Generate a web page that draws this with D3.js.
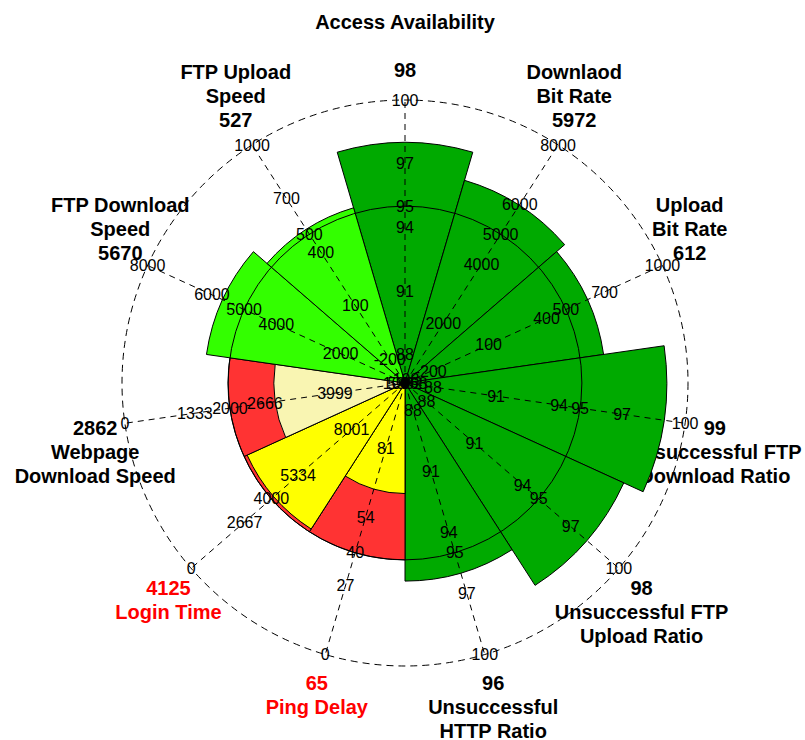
<!DOCTYPE html>
<html>
<head>
<meta charset="utf-8">
<script src="https://cdn.jsdelivr.net/npm/d3@7"></script>
<style>
  body { margin: 0; background: #fff; }
  text { font-family: "Liberation Sans", Arial, sans-serif; }
</style>
</head>
<body>
<div id="chart"></div>
<script>
// data
const categories = ["Access Availability", "Downlaod Bit Rate", "Upload Bit Rate",
  "Unsuccessful FTP Download Ratio", "Unsuccessful FTP Upload Ratio", "Unsuccessful HTTP Ratio",
  "Ping Delay", "Login Time", "Webpage Download Speed", "FTP Download Speed", "FTP Upload Speed"];
const nameLines = [["Access Availability", ""], ["Downlaod", "Bit Rate"], ["Upload", "Bit Rate"],
  ["Unsuccessful FTP", "Download Ratio"], ["Unsuccessful FTP", "Upload Ratio"], ["Unsuccessful", "HTTP Ratio"],
  ["Ping Delay"], ["Login Time"], ["Webpage", "Download Speed"], ["FTP Download", "Speed"], ["FTP Upload", "Speed"]];
const values = [98, 5972, 612, 99, 98, 96, 65, 4125, 2862, 5670, 527];
const thresholds = [95, 5000, 500, 95, 95, 95, 40, 4000, 2000, 5000, 500];
// value at the outer dashed ring and value at the centre, per axis
const axisOuter = [100, 8000, 1000, 100, 100, 100, 0, 0, 0, 8000, 1000];
const axisInner = [86.667, 0, -333.33, 86.667, 86.667, 86.667, 106.67, 10667, 5333.3, 0, -333.33];
const tickLabels = [
  [88, 91, 94, 97, 100],
  [0, 2000, 4000, 6000, 8000],
  [-200, 100, 400, 700, 1000],
  [88, 91, 94, 97, 100],
  [88, 91, 94, 97, 100],
  [88, 91, 94, 97, 100],
  [0, 27, 54, 81, 108],
  [0, 2667, 5334, 8001, 10668],
  [0, 1333, 2666, 3999, 5332],
  [0, 2000, 4000, 6000, 8000],
  [-200, 100, 400, 700, 1000]
];
const status = ["good", "good", "good", "good", "good", "good", "bad", "bad", "warn", "fair", "fair"];

const fills = { good: "#00aa00", fair: "#33ff00", bad: "#ffff00", warn: "#f9f5b2" };
const width = 805, height = 740;
const cx = 405, cy = 383, R = 283, labelR = 313;
const n = categories.length;
const step = 2 * Math.PI / n;

const svg = d3.select("#chart").append("svg")
  .attr("width", width)
  .attr("height", height);

const g = svg.append("g").attr("transform", "translate(" + cx + "," + cy + ")");

const scales = categories.map((c, i) =>
  d3.scaleLinear().domain([axisInner[i], axisOuter[i]]).range([0, R]));

function pt(r, a) {
  return [r * Math.sin(a), -r * Math.cos(a)];
}

const arc = d3.arc().innerRadius(0);

// category labels (drawn first, sectors go over them)
categories.forEach((c, i) => {
  const a = i * step;
  const [x, y] = pt(labelR, a);
  const upper = Math.cos(a) > 0.01;
  const lines = upper ? nameLines[i].concat([String(values[i])]) : [String(values[i])].concat(nameLines[i]);
  const lh = 24;
  const y0 = upper ? y - (lines.length - 1) * lh : y;
  const t = g.append("text")
    .attr("text-anchor", "middle")
    .attr("font-size", "20px")
    .attr("font-weight", "bold")
    .attr("fill", status[i] === "bad" ? "#ff0000" : "#000");
  lines.forEach((l, k) => {
    t.append("tspan").attr("x", x).attr("y", y0 + k * lh).attr("dy", "0.35em").text(l);
  });
});

// sectors
categories.forEach((c, i) => {
  const a = i * step;
  const s = scales[i];
  const ang = { startAngle: a - step / 2, endAngle: a + step / 2 };
  if (status[i] === "bad" || status[i] === "warn") {
    g.append("path")
      .attr("d", arc(Object.assign({ outerRadius: s(thresholds[i]) }, ang)))
      .attr("fill", "#ff3333")
      .attr("stroke", "#000")
      .attr("stroke-width", 1);
  }
  g.append("path")
    .attr("d", arc(Object.assign({ outerRadius: s(values[i]) }, ang)))
    .attr("fill", fills[status[i]])
    .attr("stroke", "#000")
    .attr("stroke-width", 1);
});

// threshold ring
g.append("circle")
  .attr("r", scales[0](thresholds[0]))
  .attr("fill", "none")
  .attr("stroke", "#000")
  .attr("stroke-width", 1);

// dashed axes and outer ring
categories.forEach((c, i) => {
  const [x, y] = pt(R, i * step);
  g.append("line")
    .attr("x1", 0).attr("y1", 0).attr("x2", x).attr("y2", y)
    .attr("stroke", "#000")
    .attr("stroke-width", 1)
    .attr("stroke-dasharray", "6,5");
});
g.append("circle")
  .attr("r", R)
  .attr("fill", "none")
  .attr("stroke", "#000")
  .attr("stroke-width", 1)
  .attr("stroke-dasharray", "7,5");

// tick labels along each axis, plus the threshold value
categories.forEach((c, i) => {
  const a = i * step;
  const s = scales[i];
  tickLabels[i].concat([thresholds[i]]).forEach(v => {
    const [x, y] = pt(s(v), a);
    g.append("text")
      .attr("x", x).attr("y", y)
      .attr("dy", "0.35em")
      .attr("text-anchor", "middle")
      .attr("font-size", "16px")
      .attr("fill", "#000")
      .text(v);
  });
});

g.append("circle").attr("r", 5).attr("fill", "#000");
</script>
</body>
</html>
